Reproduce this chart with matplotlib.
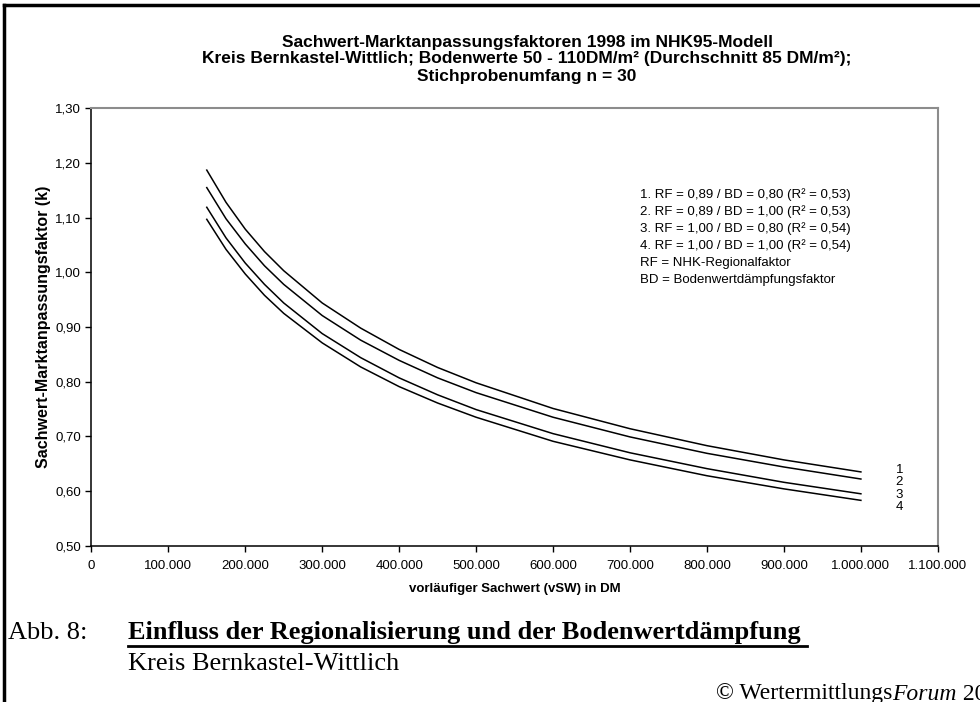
import matplotlib
matplotlib.use("Agg")
import matplotlib.pyplot as plt
from matplotlib.lines import Line2D
from matplotlib.ticker import FuncFormatter, MultipleLocator

plt.rcParams["font.family"] = ["Liberation Sans", "DejaVu Sans"]

# vorläufiger Sachwert (DM) and Marktanpassungsfaktor k for the four model variants
vsw = [150000, 175000, 200000, 225000, 250000, 300000, 350000, 400000, 450000,
       500000, 600000, 700000, 800000, 900000, 1000000]
k1 = [1.187, 1.128, 1.079, 1.038, 1.003, 0.944, 0.898, 0.859, 0.826,
      0.798, 0.751, 0.714, 0.683, 0.657, 0.635]
k2 = [1.155, 1.098, 1.052, 1.012, 0.978, 0.921, 0.876, 0.839, 0.807,
      0.780, 0.735, 0.699, 0.669, 0.644, 0.622]
k3 = [1.119, 1.063, 1.017, 0.978, 0.944, 0.888, 0.844, 0.807, 0.776,
      0.749, 0.705, 0.670, 0.641, 0.616, 0.595]
k4 = [1.097, 1.042, 0.997, 0.958, 0.925, 0.871, 0.827, 0.791, 0.761,
      0.735, 0.691, 0.657, 0.628, 0.604, 0.583]
curve_names = ["1", "2", "3", "4"]
legend_lines = [
    "1. RF = 0,89 / BD = 0,80 (R² = 0,53)",
    "2. RF = 0,89 / BD = 1,00 (R² = 0,53)",
    "3. RF = 1,00 / BD = 0,80 (R² = 0,54)",
    "4. RF = 1,00 / BD = 1,00 (R² = 0,54)",
    "RF = NHK-Regionalfaktor",
    "BD = Bodenwertdämpfungsfaktor",
]
title_lines = [
    "Sachwert-Marktanpassungsfaktoren 1998 im NHK95-Modell",
    "Kreis Bernkastel-Wittlich; Bodenwerte 50 - 110DM/m² (Durchschnitt 85 DM/m²);",
    "Stichprobenumfang n = 30",
]

W, H = 980, 702
fig = plt.figure(figsize=(W / 100, H / 100), dpi=100)
ax = fig.add_axes([0.0932, 0.2226, 0.8638, 0.6231])

for k in (k1, k2, k3, k4):
    ax.plot(vsw, k, color="black", lw=1.1)

# curve numbers right of the line ends
for name, y in zip(curve_names, [0.639, 0.617, 0.593, 0.570]):
    ax.text(1050000, y, name, fontsize=9.5, ha="center", va="center")

ax.set_xlim(0, 1100000)
ax.set_ylim(0.5, 1.3)
ax.xaxis.set_major_locator(MultipleLocator(100000))
ax.yaxis.set_major_locator(MultipleLocator(0.1))
ax.xaxis.set_major_formatter(FuncFormatter(lambda v, p: f"{int(round(v)):,}".replace(",", ".")))
ax.yaxis.set_major_formatter(FuncFormatter(lambda v, p: f"{v:.2f}".replace(".", ",")))
ax.tick_params(direction="out", length=4, width=1, labelsize=9.5, colors="black")
ax.tick_params(axis="x", pad=6)
for s in ("left", "bottom"):
    ax.spines[s].set_color("black")
    ax.spines[s].set_linewidth(1.1)
for s in ("top", "right"):
    ax.spines[s].set_color("#8c8c8c")
    ax.spines[s].set_linewidth(1.5)

ax.set_xlabel("vorläufiger Sachwert (vSW) in DM", fontsize=9.5, fontweight="bold", labelpad=8)
ax.set_ylabel("Sachwert-Marktanpassungsfaktor (k)", fontsize=11.5, fontweight="bold")
ax.yaxis.set_label_coords((51 - 91.3) / 846.7, 0.5)

for i, line in enumerate(legend_lines):
    fig.text(640 / W, 1 - (195 + i * 17) / H, line, fontsize=9.5, va="center")

for i, line in enumerate(title_lines):
    fig.text(527 / W, 1 - (42 + i * 17) / H, line, ha="center", va="center",
             fontsize=12.5, fontweight="bold")

# caption below the chart
serif = ["Liberation Serif", "DejaVu Serif"]
fig.text(8 / W, 1 - 633 / H, "Abb. 8:", family=serif, fontsize=19, va="center")
fig.text(128 / W, 1 - 633 / H, "Einfluss der Regionalisierung und der Bodenwertdämpfung",
         family=serif, fontsize=19, fontweight="bold", va="center")
fig.add_artist(Line2D([128 / W, 807 / W], [1 - 646 / H] * 2, color="black", lw=2))
fig.text(128 / W, 1 - 664 / H, "Kreis Bernkastel-Wittlich", family=serif, fontsize=19, va="center")

# copyright line, "Forum" set in italics
renderer = fig.canvas.get_renderer()
x0 = 716 / W
for part, style in (("© Wertermittlungs", "normal"), ("Forum", "italic"), ("\u00a02000", "normal")):
    t = fig.text(x0, 1 - 694 / H, part, family=serif, fontsize=17, style=style, va="center")
    x0 += t.get_window_extent(renderer).width / W

# page frame along top and left edge
fig.add_artist(Line2D([4 / W, 1], [1 - 5 / H] * 2, color="black", lw=2.5))
fig.add_artist(Line2D([4 / W] * 2, [0, 1 - 5 / H], color="black", lw=2.5))

fig.savefig("out.png", dpi=100)
